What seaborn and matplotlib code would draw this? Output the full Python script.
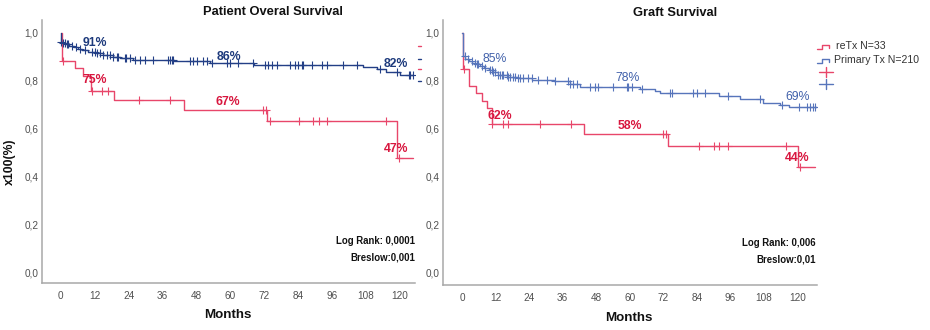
import numpy as np
import pandas as pd
import matplotlib
matplotlib.use("Agg")
import matplotlib.pyplot as plt
from matplotlib.lines import Line2D
import seaborn as sns

sns.set_theme(style="white")
plt.rcParams["font.family"] = ["Liberation Sans", "DejaVu Sans"]

# ---------------- data ----------------
month_ticks = [0, 12, 24, 36, 48, 60, 72, 84, 96, 108, 120]
surv_ticks = [0.0, 0.2, 0.4, 0.6, 0.8, 1.0]
surv_tick_labels = ["0,0", "0,2", "0,4", "0,6", "0,8", "1,0"]

groups = ["reTx N=33", "Primary Tx N=210"]

# Patient overall survival: event times (months) and survival after each event
os_retx_events = [0.3, 5.0, 7.9, 10.6, 18.9, 43.5, 73.0, 118.8]
os_retx_surv = [0.882, 0.852, 0.821, 0.757, 0.720, 0.676, 0.633, 0.475]
os_retx_end = 124.7
os_retx_censored = [0.8, 10.9, 14.4, 16.8, 27.7, 38.6, 71.5, 72.4, 74.0,
                    84.2, 89.3, 91.3, 94.0, 115.0, 119.8]

os_prim_events = [0.1, 0.8, 1.8, 3.0, 4.5, 6.0, 7.5, 9.7, 12.5, 15.0, 18.5,
                  21.0, 25.6, 40.0, 52.6, 68.5, 107.0, 112.0, 115.0, 120.0]
os_prim_surv = [0.964, 0.958, 0.952, 0.946, 0.940, 0.934, 0.928, 0.921, 0.915,
                0.908, 0.901, 0.894, 0.887, 0.881, 0.875, 0.866, 0.857, 0.847,
                0.837, 0.826]
os_prim_end = 124.7
os_prim_censored = [0.2, 0.8, 1.4, 2.0, 2.6, 3.8, 5.5, 6.7, 8.5, 10.9, 12.0,
                    12.6, 13.8, 15.0, 16.2, 17.3, 18.5, 19.7, 20.3, 22.7, 23.2,
                    24.4, 26.2, 28.0, 29.7, 32.7, 38.0, 38.6, 39.2, 39.8, 45.7,
                    46.8, 48.0, 50.4, 51.6, 53.3, 58.6, 59.8, 62.8, 68.1, 72.2,
                    73.4, 74.6, 76.3, 81.1, 82.8, 84.0, 85.2, 85.8, 88.7, 92.3,
                    94.0, 99.9, 104.7, 112.9, 118.8, 123.0, 123.5, 124.7]

# Graft survival
gs_retx_events = [0.3, 2.6, 4.9, 7.0, 8.8, 10.8, 43.6, 73.8, 120.0]
gs_retx_surv = [0.848, 0.778, 0.748, 0.715, 0.685, 0.619, 0.577, 0.529, 0.438]
gs_retx_end = 126.2
gs_retx_censored = [0.8, 10.8, 14.8, 16.6, 27.9, 39.0, 72.0, 72.9, 84.8,
                    90.1, 92.0, 95.2, 115.8, 120.8]

gs_prim_events = [0.3, 1.2, 2.4, 3.6, 5.0, 6.5, 8.0, 9.5, 11.0, 12.9, 16.5,
                  20.0, 25.0, 33.0, 38.6, 42.2, 63.6, 69.0, 70.8, 92.0, 99.4,
                  107.7, 113.7, 117.0]
gs_prim_surv = [0.905, 0.893, 0.884, 0.876, 0.868, 0.861, 0.853, 0.846, 0.838,
                0.826, 0.817, 0.810, 0.805, 0.800, 0.785, 0.775, 0.764, 0.757,
                0.749, 0.738, 0.723, 0.709, 0.699, 0.689]
gs_prim_end = 126.8
gs_prim_censored = [1.1, 2.3, 3.5, 4.6, 5.2, 5.8, 7.0, 8.2, 10.0, 10.6, 11.2,
                    11.8, 13.0, 13.6, 14.2, 14.8, 16.0, 16.6, 17.2, 18.4, 19.0,
                    20.1, 20.7, 21.9, 23.7, 24.9, 27.3, 30.3, 33.3, 38.0, 38.6,
                    39.8, 41.0, 45.8, 47.6, 48.7, 54.1, 58.9, 59.5, 60.7, 64.2,
                    74.4, 75.0, 82.7, 83.9, 86.9, 95.2, 106.6, 114.3, 120.3,
                    123.2, 124.4, 125.6, 126.2]

# percentage call-outs: (month, survival, text)
os_retx_labels = [(12, 0.803, "75%"), (59, 0.711, "67%"), (118.6, 0.515, "47%")]
os_prim_labels = [(12, 0.958, "91%"), (59.5, 0.900, "86%"), (118.6, 0.870, "82%")]
gs_retx_labels = [(13.6, 0.653, "62%"), (60, 0.611, "58%"), (119.8, 0.477, "44%")]
gs_prim_labels = [(11.7, 0.891, "85%"), (59.3, 0.812, "78%"), (119.8, 0.730, "69%")]

# ---------------- styling ----------------
RED_LINE = "#e8466a"
RED_TEXT = "#d8173f"
NAVY_LINE = "#233f86"
NAVY_TEXT = "#1d3a7c"
BLUE_LINE = "#5775bb"
BLUE_TEXT = "#4060aa"
SPINE = "#a8a8a8"
TICK_TEXT = "#505050"

W, H = 930, 330


def px(x, y):
    return x / W, 1 - y / H


def step_frame(events, surv, end):
    t = [0.0] + list(events) + [end]
    s = [1.0] + list(surv) + [surv[-1]]
    return pd.DataFrame({"month": t, "survival": s})


def surv_at(times, events, surv):
    ev = np.asarray(events)
    sv = np.asarray([1.0] + list(surv))
    idx = np.searchsorted(ev, np.asarray(times), side="right")
    return sv[idx]


def draw_curve(ax, events, surv, end, censored, color):
    df = step_frame(events, surv, end)
    sns.lineplot(data=df, x="month", y="survival", drawstyle="steps-post",
                 estimator=None, sort=False, color=color, lw=1.0, ax=ax)
    cdf = pd.DataFrame({"month": censored,
                        "survival": surv_at(censored, events, surv)})
    sns.scatterplot(data=cdf, x="month", y="survival", marker="+", s=28,
                    color=color, linewidth=0.8, ax=ax, zorder=3)


def style_axes(ax, xlim, ylim):
    ax.set_xlim(*xlim)
    ax.set_ylim(*ylim)
    ax.set_xticks(month_ticks)
    ax.set_xticklabels([str(m) for m in month_ticks])
    ax.set_yticks(surv_ticks)
    ax.set_yticklabels(surv_tick_labels)
    ax.tick_params(axis="both", length=0, labelsize=7.2, colors=TICK_TEXT)
    ax.tick_params(axis="x", pad=5.5)
    ax.tick_params(axis="y", pad=2.5)
    for side in ("top", "right"):
        ax.spines[side].set_visible(False)
    for side in ("left", "bottom"):
        ax.spines[side].set_color(SPINE)
        ax.spines[side].set_linewidth(1.1)
    ax.set_xlabel("")
    ax.set_ylabel("")
    ax.grid(False)


fig = plt.figure(figsize=(W / 100, H / 100), dpi=100)

# left panel: patient overall survival
ax1 = fig.add_axes([42 / W, 1 - 283 / H, 373 / W, 263 / H])
draw_curve(ax1, os_retx_events, os_retx_surv, os_retx_end, os_retx_censored, RED_LINE)
draw_curve(ax1, os_prim_events, os_prim_surv, os_prim_end, os_prim_censored, NAVY_LINE)
style_axes(ax1, (-6.7, 125.3), (-0.046, 1.054))
for m, s, t in os_retx_labels:
    ax1.text(m, s, t, color=RED_TEXT, fontsize=8.8, fontweight="bold",
             ha="center", va="center")
for m, s, t in os_prim_labels:
    ax1.text(m, s, t, color=NAVY_TEXT, fontsize=8.8, fontweight="bold",
             ha="center", va="center")

# right panel: graft survival
ax2 = fig.add_axes([443 / W, 1 - 285 / H, 374 / W, 265 / H])
draw_curve(ax2, gs_retx_events, gs_retx_surv, gs_retx_end, gs_retx_censored, RED_LINE)
draw_curve(ax2, gs_prim_events, gs_prim_surv, gs_prim_end, gs_prim_censored, BLUE_LINE)
style_axes(ax2, (-6.8, 126.9), (-0.054, 1.054))
for m, s, t in gs_retx_labels:
    ax2.text(m, s, t, color=RED_TEXT, fontsize=8.8, fontweight="semibold",
             ha="center", va="center")
for m, s, t in gs_prim_labels:
    ax2.text(m, s, t, color=BLUE_TEXT, fontsize=8.8,
             ha="center", va="center")

# titles and axis labels
fig.text(*px(273, 12), "Patient Overal Survival", fontsize=9.3,
         fontweight="bold", ha="center", va="center", color="#111111")
fig.text(*px(675, 13), "Graft Survival", fontsize=9.3,
         fontweight="bold", ha="center", va="center", color="#111111")
fig.text(*px(228, 315), "Months", fontsize=9.6, fontweight="bold",
         ha="center", va="center", color="#111111")
fig.text(*px(629, 318), "Months", fontsize=9.6, fontweight="bold",
         ha="center", va="center", color="#111111")
fig.text(*px(10, 162), "x100(%)", fontsize=8.8, fontweight="bold",
         rotation=90, ha="center", va="center", color="#111111")

# test statistics
fig.text(*px(415, 241), "Log Rank: 0,0001", fontsize=6.9, fontweight="bold",
         ha="right", va="center", color="#111111")
fig.text(*px(415, 258), "Breslow:0,001", fontsize=6.9, fontweight="bold",
         ha="right", va="center", color="#111111")
fig.text(*px(816, 243), "Log Rank: 0,006", fontsize=6.9, fontweight="bold",
         ha="right", va="center", color="#111111")
fig.text(*px(816, 260), "Breslow:0,01", fontsize=6.9, fontweight="bold",
         ha="right", va="center", color="#111111")


def fig_line(xs, ys, color, lw=1.0):
    pts = [px(x, y) for x, y in zip(xs, ys)]
    fig.add_artist(Line2D([p[0] for p in pts], [p[1] for p in pts],
                          color=color, lw=lw, transform=fig.transFigure))


# legend keys (right panel)
for y0, color, label in [(49, RED_LINE, groups[0]), (63, BLUE_LINE, groups[1])]:
    fig_line([817, 822, 822, 829, 829], [y0, y0, y0 - 4, y0 - 4, y0 - 1], color)
    fig.text(*px(836 if label == groups[0] else 834, y0 - 3), label,
             fontsize=7.6, ha="left", va="center", color="#333333")
for y0, color in [(72, RED_LINE), (84, BLUE_LINE)]:
    fig_line([819, 833], [y0, y0], color)
    fig_line([826, 826], [y0 - 5, y0 + 5], color)

# legend keys cut at the left panel's edge
for y0, color in [(46, RED_LINE), (59, NAVY_LINE), (69, RED_LINE), (81, NAVY_LINE)]:
    fig_line([417.5, 420.5], [y0, y0], color)

fig.savefig("out.png", dpi=100)
